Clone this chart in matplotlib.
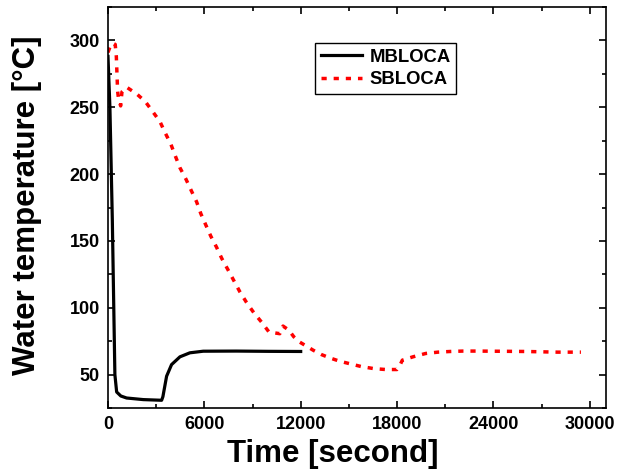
import numpy as np
import matplotlib
matplotlib.use("Agg")
import matplotlib.pyplot as plt
from matplotlib.ticker import MultipleLocator

plt.rcParams['font.family'] = ['Liberation Sans', 'DejaVu Sans']
plt.rcParams['font.weight'] = 'bold'

# MBLOCA (black solid)
mb_time = [0, 120, 270, 430, 540, 800, 1160, 2200, 3340, 3420, 3650, 3960,
           4480, 5100, 5930, 8000, 10000, 12000]
mb_temp = [288, 250, 166, 50, 37, 34, 32.5, 31.3, 30.8, 33.5, 48.8, 57.5,
           63.3, 66.3, 67.5, 67.6, 67.4, 67.3]

# SBLOCA (red dotted)
sb_time = [0, 150, 300, 450, 520, 560, 600, 650, 790, 870, 1160, 1785, 2320,
           2800, 3234, 3564, 3918, 4185, 4478, 4852, 5181, 5517, 5785, 6096,
           6405, 6760, 7090, 7464, 7837, 8210, 8625, 9080, 9560, 10030, 10325,
           10700, 10900, 11260, 11570, 11940, 12360, 12770, 13290, 13810,
           14430, 15780, 16545, 17290, 17995, 18200, 18330, 18990, 19780,
           20545, 21315, 22100, 23000, 24000, 26000, 28000, 29450]
sb_temp = [291, 296, 298, 297, 288, 275, 262, 257, 251, 261.5, 265, 260,
           254.3, 246.5, 239.3, 230.8, 222.3, 213.8, 204.8, 196.3, 187.8,
           179.3, 170.3, 161.8, 153.5, 145.3, 136.8, 128.6, 120.3, 112, 104,
           96.3, 89.3, 81.8, 81.3, 80.6, 86.3, 83.3, 78.3, 74.3, 71.3, 68.3,
           65, 62.5, 60, 56, 54.5, 53.8, 53.8, 57.5, 60.8, 63.3, 65.8, 66.8,
           67.3, 67.6, 67.6, 67.5, 67.3, 66.8, 66.8]

fig = plt.figure(figsize=(6.22, 4.75), dpi=100)
ax = fig.add_axes([0.1736, 0.141, 0.8004, 0.8443])

ax.plot(mb_time, mb_temp, color='black', lw=2.3, label='MBLOCA')
ax.plot(sb_time, sb_temp, color='red', lw=2.5, linestyle=(0, (1.5, 2.0)),
        label='SBLOCA')

ax.set_xlim(0, 31000)
ax.set_ylim(25, 325)
ax.xaxis.set_major_locator(MultipleLocator(6000))
ax.xaxis.set_minor_locator(MultipleLocator(3000))
ax.yaxis.set_major_locator(MultipleLocator(50))
ax.yaxis.set_minor_locator(MultipleLocator(25))

ax.tick_params(which='both', direction='in', top=True, right=True, width=1.2)
ax.tick_params(which='major', length=5, labelsize=13, pad=6)
ax.tick_params(which='minor', length=3)
for lbl in ax.get_xticklabels() + ax.get_yticklabels():
    lbl.set_fontweight('bold')
for sp in ax.spines.values():
    sp.set_linewidth(1.2)

ax.set_xlabel('Time [second]', fontsize=22.5, fontweight='bold')
ax.set_ylabel('Water temperature [°C]', fontsize=22.5, fontweight='bold')
ax.xaxis.set_label_coords(0.452, -0.077)
ax.yaxis.set_label_coords(-0.133, 0.505)

leg = ax.legend(loc='upper left', bbox_to_anchor=(0.416, 0.91), fontsize=13.3,
                handlelength=2.25, handletextpad=0.4, labelspacing=0.3,
                borderpad=0.3, fancybox=False, framealpha=1,
                edgecolor='black', borderaxespad=0)
leg.get_frame().set_linewidth(1.0)
for t in leg.get_texts():
    t.set_fontweight('bold')

fig.savefig('out.png', dpi=100)
